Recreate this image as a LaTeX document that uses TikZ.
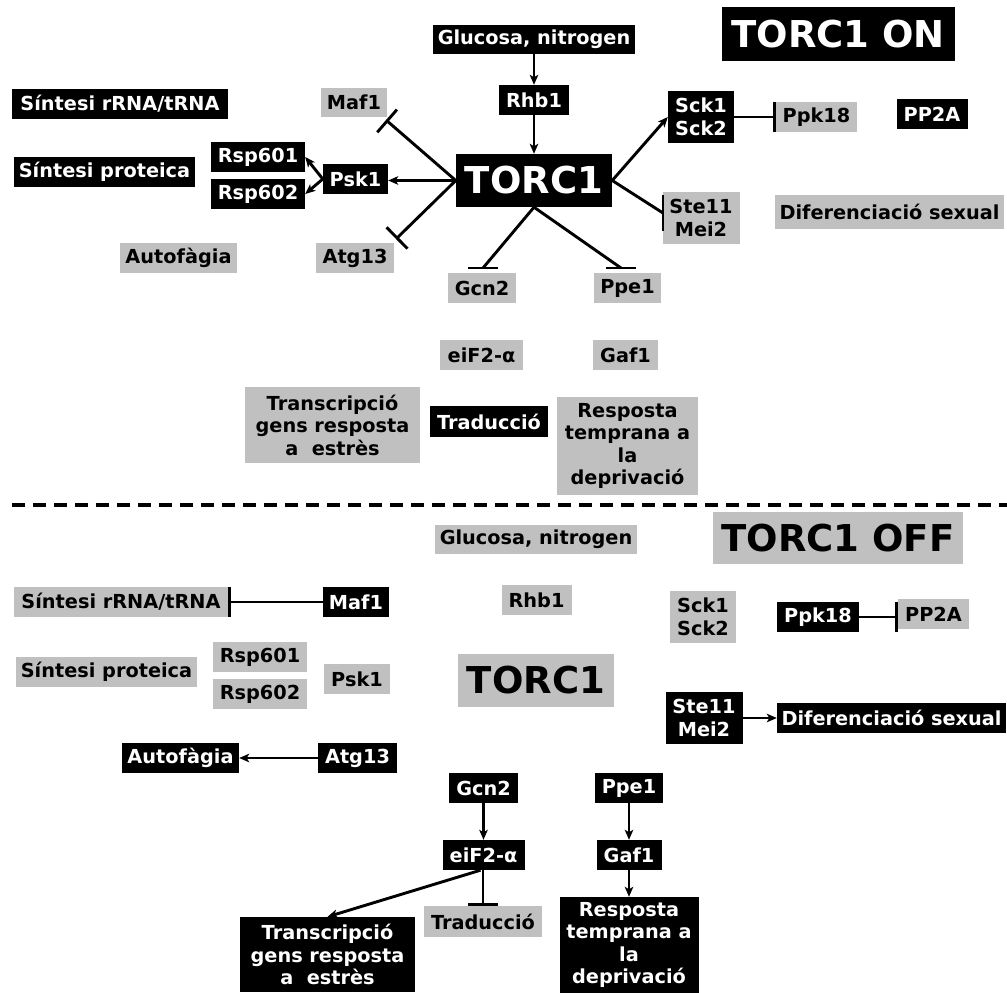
\documentclass[tikz,border=0pt]{standalone}
\usepackage{fontspec}
\setmainfont{DejaVu Sans}
\usetikzlibrary{arrows.meta,calc}
\definecolor{boxgray}{RGB}{192,192,192}
\tikzset{
  base/.style={rectangle, inner sep=0pt, align=center,
    font=\bfseries\fontsize{19.3}{22.5}\selectfont},
  bk/.style={base, fill=black, text=white},
  gr/.style={base, fill=boxgray, text=black},
  big/.style={font=\bfseries\fontsize{37}{40}\selectfont},
  wh/.style 2 args={minimum width=#1pt, minimum height=#2pt},
  conn/.style={line width=2.9pt, black},
  act/.style={conn, -{Stealth[length=10pt,width=8.5pt,inset=2.5pt]}},
  inh/.style={conn, -{Bar[width=30pt,line width=2.9pt]}},
  barline/.style={line width=2.9pt, black}
}
\begin{document}
\begin{tikzpicture}[x=1pt,y=-1pt]
\useasboundingbox (0,0) rectangle (1007,993);
% ================= TORC1 ON =================
\node[bk,big,wh={233}{54}] (tonT) at (838,34) {TORC1 ON};
\node[bk,wh={202}{29}] (glu) at (534,39.5) {Glucosa, nitrogen};
\node[bk,wh={70}{30}] (rhb) at (534,100) {Rhb1};
\node[bk,big,wh={156}{53}] (torc) at (534,180.5) {TORC1};
\node[bk,wh={216}{30}] (srna) at (120,104) {Síntesi rRNA/tRNA};
\node[bk,wh={181}{30}] (sprot) at (104.5,172) {Síntesi proteica};
\node[bk,wh={94}{30}] (r601) at (258,157) {Rsp601};
\node[bk,wh={94}{30}] (r602) at (258,194) {Rsp602};
\node[bk,wh={65}{30}] (psk) at (355.5,179) {Psk1};
\node[gr,wh={66}{29}] (maf) at (354,102.5) {Maf1};
\node[gr,wh={78}{30}] (atg) at (355,258) {Atg13};
\node[gr,wh={117}{30}] (auto) at (178.5,258) {Autofàgia};
\node[bk,wh={66}{52}] (sck) at (701,117) {Sck1\\Sck2};
\node[gr,wh={81}{30}] (ppk) at (816.5,117) {Ppk18};
\node[bk,wh={71}{30}] (pp2a) at (932,114) {PP2A};
\node[gr,wh={77}{52}] (ste) at (701,218) {Ste11\\Mei2};
\node[gr,wh={229}{34}] (dif) at (889.5,212) {Diferenciació sexual};
\node[gr,wh={68}{30}] (gcn) at (482,288) {Gcn2};
\node[gr,wh={67}{30}] (ppe) at (627.5,288) {Ppe1};
\node[gr,wh={83}{30}] (eif) at (481.5,355) {eiF2-α};
\node[gr,wh={65}{30}] (gaf) at (625.5,355) {Gaf1};
\node[gr,wh={175}{76}] (trx) at (332.5,425) {Transcripció\\gens resposta\\a~~estrès};
\node[bk,wh={118}{31}] (trad) at (489,421.5) {Traducció};
\node[gr,wh={141}{98}] (resp) at (627.5,446) {Resposta\\temprana a\\la\\deprivació};
% connectors ON
\draw[act] (glu.south) -- (rhb.north);
\draw[act] (rhb.south) -- (torc.north);
\coordinate (mafend) at (386,120);
\coordinate (atgend) at (396,239);
\draw[inh] (torc.west) -- (mafend);
\draw[inh] (torc.west) -- (atgend);
\draw[act] (torc.west) -- (torc.west -| psk.east);
\draw[act] (psk.west) -- (r601.east);
\draw[act] (psk.west) -- (r602.east);
\draw[act] (torc.east) -- (sck.west);
\draw[inh] (sck.east) -- (sck.east -| ppk.west);
\coordinate (steend) at (663,213);
\draw[conn] (torc.east) -- (steend);
\draw[barline] ($(steend)+(0,-18)$) -- ($(steend)+(0,18)$);
\coordinate (gcnend) at (483,268);
\coordinate (ppeend) at (621,268);
\draw[conn] (torc.south) -- (gcnend);
\draw[barline] ($(gcnend)+(-15,0)$) -- ($(gcnend)+(15,0)$);
\draw[conn] (torc.south) -- (ppeend);
\draw[barline] ($(ppeend)+(-15,0)$) -- ($(ppeend)+(15,0)$);
% ================= separator =================
\coordinate (dl) at (12,505);
\coordinate (dr) at (1007,505);
\draw[line width=3.5pt, dash pattern=on 12.5pt off 8.5pt] (dl) -- (dr);
% ================= TORC1 OFF =================
\node[gr,big,wh={250}{52}] (toffT) at (838,538) {TORC1 OFF};
\node[gr,wh={202}{29}] (glu2) at (536,539.5) {Glucosa, nitrogen};
\node[gr,wh={70}{30}] (rhb2) at (536.5,600) {Rhb1};
\node[gr,big,wh={156}{53}] (torc2) at (536,680.5) {TORC1};
\node[gr,wh={214}{30}] (srna2) at (121,602) {Síntesi rRNA/tRNA};
\node[bk,wh={66}{30}] (maf2) at (356,602) {Maf1};
\node[gr,wh={181}{30}] (sprot2) at (106.5,672) {Síntesi proteica};
\node[gr,wh={94}{30}] (r6012) at (260,657) {Rsp601};
\node[gr,wh={94}{30}] (r6022) at (260,694) {Rsp602};
\node[gr,wh={66}{30}] (psk2) at (357,679) {Psk1};
\node[bk,wh={117}{30}] (auto2) at (180.5,758) {Autofàgia};
\node[bk,wh={79}{30}] (atg2) at (357.5,758) {Atg13};
\node[gr,wh={66}{52}] (sck2) at (703,617) {Sck1\\Sck2};
\node[bk,wh={82}{30}] (ppk2) at (818,617) {Ppk18};
\node[gr,wh={71}{30}] (pp2a2) at (933.5,614) {PP2A};
\node[bk,wh={77}{52}] (ste2) at (704,718) {Ste11\\Mei2};
\node[bk,wh={229}{30}] (dif2) at (891.5,718) {Diferenciació sexual};
\node[bk,wh={69}{30}] (gcn2) at (483.5,788) {Gcn2};
\node[bk,wh={68}{30}] (ppe2) at (629,788) {Ppe1};
\node[bk,wh={82}{30}] (eif2) at (483.5,855) {eiF2-α};
\node[bk,wh={65}{30}] (gaf2) at (629,855) {Gaf1};
\node[bk,wh={175}{75}] (trx2) at (327.5,954.5) {Transcripció\\gens resposta\\a~~estrès};
\node[gr,wh={118}{31}] (trad2) at (483,921.5) {Traducció};
\node[bk,wh={139}{96}] (resp2) at (629,945) {Resposta\\temprana a\\la\\deprivació};
% connectors OFF
\draw[inh] (maf2.west) -- (srna2.east);
\draw[act] (atg2.west) -- (auto2.east);
\draw[inh] (ppk2.east) -- (ppk2.east -| pp2a2.west);
\draw[act] (ste2.east) -- (dif2.west);
\draw[act] (gcn2.south) -- (eif2.north);
\draw[act] (ppe2.south) -- (gaf2.north);
\draw[act] (gaf2.south) -- (resp2.north);
\draw[act] ($(eif2.south)+(-3,0)$) -- (trx2.north);
\draw[inh] (eif2.south -| trad2.north) -- (trad2.north);
\end{tikzpicture}
\end{document}
